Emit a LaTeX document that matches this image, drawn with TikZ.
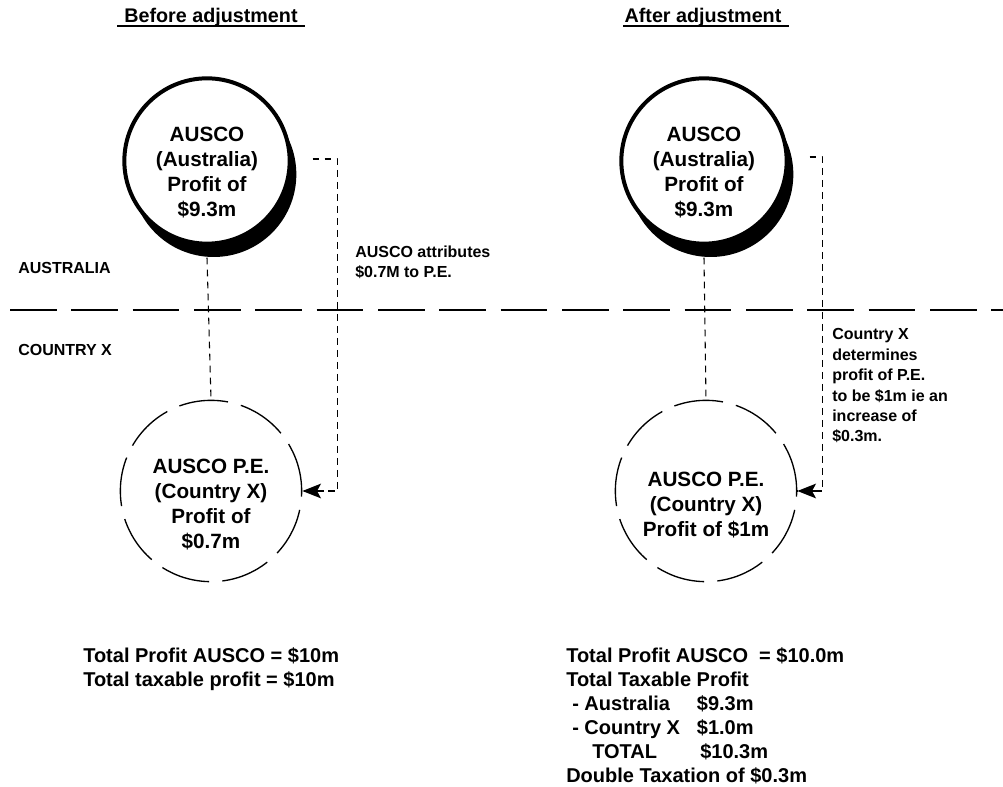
\documentclass[tikz,border=0pt]{standalone}
\usepackage{fontspec}
\setmainfont{Liberation Sans}
\usepackage{tikz}
\usetikzlibrary{arrows.meta}
\usetikzlibrary{calc}
\usetikzlibrary{shadows}
\tikzset{l/.style={font=\bfseries\fontsize{15.5}{18.75}\selectfont, align=center}}
\tikzset{m/.style={font=\bfseries\fontsize{12}{15.3}\selectfont, align=left, inner sep=0pt}}
\tikzset{b/.style={font=\bfseries\fontsize{15}{18}\selectfont, align=left, inner sep=0pt}}
\tikzset{hd/.style={font=\bfseries\fontsize{14.8}{18}\selectfont, inner sep=0pt}}
\tikzset{co/.style={circle, draw, line width=3pt, fill=white, minimum size=124pt, inner sep=0pt,
    drop shadow={shadow xshift=5pt, shadow yshift=-10pt, fill=black, opacity=1}}}
\tikzset{pe/.style={circle, draw, line width=1pt, dash pattern=on 37pt off 10pt, minimum size=136pt, inner sep=0pt}}
\tikzset{ln/.style={line width=0.8pt, dash pattern=on 5pt off 4pt}}
\tikzset{tip/.style={line width=1pt, solid, -{Stealth[length=14pt, width=11pt, inset=3pt, fill=black]}}}
\tikzset{ul/.style={line width=1.5pt}}

\begin{document}
\begin{tikzpicture}[x=0.75pt, y=-0.75pt, line join=round]
  \useasboundingbox (0,0) rectangle (1003,787);
  % headings
  \node[hd] (hB) at (211,17) {Before adjustment};
  \node[hd] (hA) at (703,17) {After adjustment};
  \draw[ul] ($(hB.base west)+(-7,4)$) -- ($(hB.base east)+(7,4)$);
  \draw[ul] ($(hA.base west)+(-1,4)$) -- ($(hA.base east)+(7,4)$);
  % border between the countries
  \draw[line width=1.1pt, dash pattern=on 35pt off 11pt] (10,310) -- (1003,310);
  \node[m, anchor=west] (au) at (18,268) {AUSTRALIA};
  \node[m, anchor=west] (cx) at (18,350) {COUNTRY X};
  % circles
  \node[co] (ausA) at (207,161) {};
  \node[l] (ausAt) at (207,173) {AUSCO\\(Australia)\\Profit of\\\$9.3m};
  \node[co] (ausB) at (704,161) {};
  \node[l] (ausBt) at (704,173) {AUSCO\\(Australia)\\Profit of\\\$9.3m};
  \node[pe] (peA) at (211,491) {};
  \node[l] (peAt) at (211,505) {AUSCO P.E.\\(Country X)\\Profit of\\\$0.7m};
  \node[pe] (peB) at (706,491) {};
  \node[l] (peBt) at (706,505) {AUSCO P.E.\\(Country X)\\Profit of \$1m};
  % links
  \draw[ln] ([yshift=-9pt]ausA.south) -- (peA.north);
  \draw[ln] ([yshift=-9pt]ausB.south) -- (peB.north);
  \draw[ln] ($(ausA.east)+(21,-2)$) -- ++(25,0) |- (peA.east);
  \draw[tip] ([xshift=16pt]peA.east) -- (peA.east);
  \draw[ln] ($(ausB.east)+(21,-4)$) -- ++(13,0) |- (peB.east);
  \draw[tip] ([xshift=16pt]peB.east) -- (peB.east);
  \node[m, anchor=west] (noteA) at (355,262) {AUSCO attributes\\\$0.7M to P.E.};
  \node[m, anchor=west] (noteB) at (832,386) {Country X\\determines\\profit of P.E.\\to be \$1m ie an\\increase of\\\$0.3m.};
  % totals
  \node[b, anchor=north west] (totA) at (83,647) {Total Profit AUSCO = \$10m\\Total taxable profit = \$10m};
  \node[b, anchor=north west] (totB) at (566,647) {Total Profit AUSCO\ \ = \$10.0m\\
    Total Taxable Profit\\
    \makebox[98pt][l]{\hspace{4.5pt}- Australia}\$9.3m\\
    \makebox[98pt][l]{\hspace{4.5pt}- Country X}\$1.0m\\
    \makebox[100.5pt][l]{\hspace{19.5pt}TOTAL}\$10.3m\\
    Double Taxation of \$0.3m};
\end{tikzpicture}
\end{document}
